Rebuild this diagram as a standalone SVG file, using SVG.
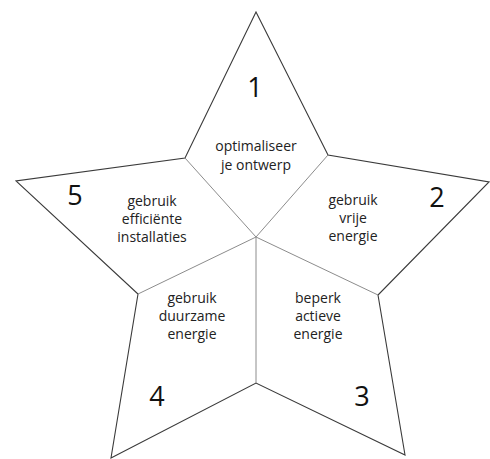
<svg xmlns="http://www.w3.org/2000/svg" width="490" height="459" viewBox="0 0 490 459">
<style>
.outline{fill:none;stroke:#3a3a3a;stroke-width:1.1;stroke-linejoin:miter}
.inner{fill:none;stroke:#8c8c8c;stroke-width:1}
.lbl{font-family:"Open Sans","Noto Sans",sans-serif;font-size:14px;fill:#222;text-anchor:middle}
.num{font-family:"Open Sans","Noto Sans",sans-serif;font-size:27px;fill:#111;text-anchor:middle}
</style>
<rect width="490" height="459" fill="#fff"/>
<g id="connectors">
<polygon class="outline" points="256,12 328,155 489,182 378,295 405,455 256,383 111,458 138,294 16,181 185,158"/>
<line class="inner" x1="256" y1="237" x2="185" y2="158"/>
<line class="inner" x1="256" y1="237" x2="328" y2="155"/>
<line class="inner" x1="256" y1="237" x2="378" y2="295"/>
<line class="inner" x1="256" y1="237" x2="256" y2="383"/>
<line class="inner" x1="256" y1="237" x2="138" y2="294"/>
</g>
<g id="node1">
<text class="num" x="255" y="97">1</text>
<text class="lbl" x="256" y="151">optimaliseer</text>
<text class="lbl" x="256" y="170">je ontwerp</text>
</g>
<g id="node2">
<text class="num" x="437" y="207">2</text>
<text class="lbl" x="353" y="205">gebruik</text>
<text class="lbl" x="353" y="223">vrije</text>
<text class="lbl" x="353" y="241">energie</text>
</g>
<g id="node3">
<text class="num" x="362" y="406">3</text>
<text class="lbl" x="318" y="303">beperk</text>
<text class="lbl" x="318" y="321">actieve</text>
<text class="lbl" x="318" y="339">energie</text>
</g>
<g id="node4">
<text class="num" x="157" y="406">4</text>
<text class="lbl" x="192" y="303">gebruik</text>
<text class="lbl" x="192" y="321">duurzame</text>
<text class="lbl" x="192" y="339">energie</text>
</g>
<g id="node5">
<text class="num" x="75" y="205">5</text>
<text class="lbl" x="152" y="206">gebruik</text>
<text class="lbl" x="152" y="224">efficiënte</text>
<text class="lbl" x="152" y="242">installaties</text>
</g>
</svg>
